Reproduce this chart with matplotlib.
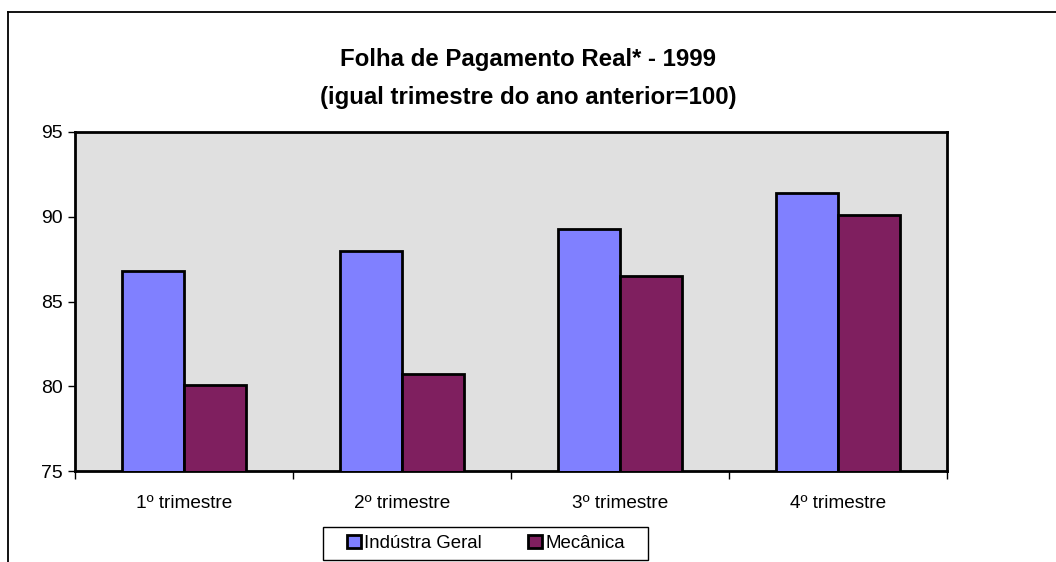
import numpy as np
import matplotlib.pyplot as plt
from matplotlib.lines import Line2D
from matplotlib.patches import Rectangle

plt.rcParams['font.family'] = ['Liberation Sans', 'DejaVu Sans']

trimestres = ['1º trimestre', '2º trimestre', '3º trimestre', '4º trimestre']
industria_geral = [86.8, 88.0, 89.3, 91.4]
mecanica = [80.1, 80.7, 86.5, 90.1]

W, H = 1056, 562
fig = plt.figure(figsize=(W / 100, H / 100), dpi=100)
ax = fig.add_axes([75 / W, 91 / H, 872 / W, 339 / H])

# moldura externa (so topo e esquerda aparecem)
fig.add_artist(Line2D([8 / W, 1], [1 - 12 / H, 1 - 12 / H], color='black', lw=1.3))
fig.add_artist(Line2D([8 / W, 8 / W], [0, 1 - 12 / H], color='black', lw=1.3))

x = np.arange(len(trimestres))
w = 1 / 3.5
ax.bar(x - w / 2, industria_geral, w, color='#8080FF', edgecolor='black', lw=2, label='Indústra Geral', zorder=3)
ax.bar(x + w / 2, mecanica, w, color='#7F1F5F', edgecolor='black', lw=2, label='Mecânica', zorder=3)

ax.set_facecolor('#E0E0E0')
ax.set_xlim(-0.5, 3.5)
ax.set_ylim(75, 95)
ax.set_yticks([75, 80, 85, 90, 95])
ax.set_xticks(x)
ax.set_xticklabels(trimestres, fontsize=13.7)
ax.set_xticks(np.arange(-0.5, 4, 1), minor=True)
ax.tick_params(axis='x', which='major', length=0, pad=17)
ax.tick_params(axis='x', which='minor', length=6, width=1, direction='out')
ax.tick_params(axis='y', labelsize=14, length=5, width=1, direction='out', pad=4)
for s in ax.spines.values():
    s.set_linewidth(2)

fig.text(0.5, 1 - 66 / H, 'Folha de Pagamento Real* - 1999', ha='center', va='baseline',
         fontsize=17.3, fontweight='bold')
fig.text(0.5, 1 - 104 / H, '(igual trimestre do ano anterior=100)', ha='center', va='baseline',
         fontsize=17.3, fontweight='bold')

# caixa da legenda
fig.add_artist(Rectangle((323 / W, 1 - 560 / H), 325 / W, 33 / H, transform=fig.transFigure,
                         facecolor='white', edgecolor='black', lw=1, zorder=4))
leg = fig.legend(loc='center', bbox_to_anchor=(486 / W, 1 - 543.5 / H), ncol=2, fontsize=13.4,
                 frameon=False, handlelength=0.75, handleheight=0.75, handletextpad=0.15,
                 columnspacing=2.5, borderpad=0)
leg.set_zorder(5)

fig.savefig('out.png', dpi=100)
